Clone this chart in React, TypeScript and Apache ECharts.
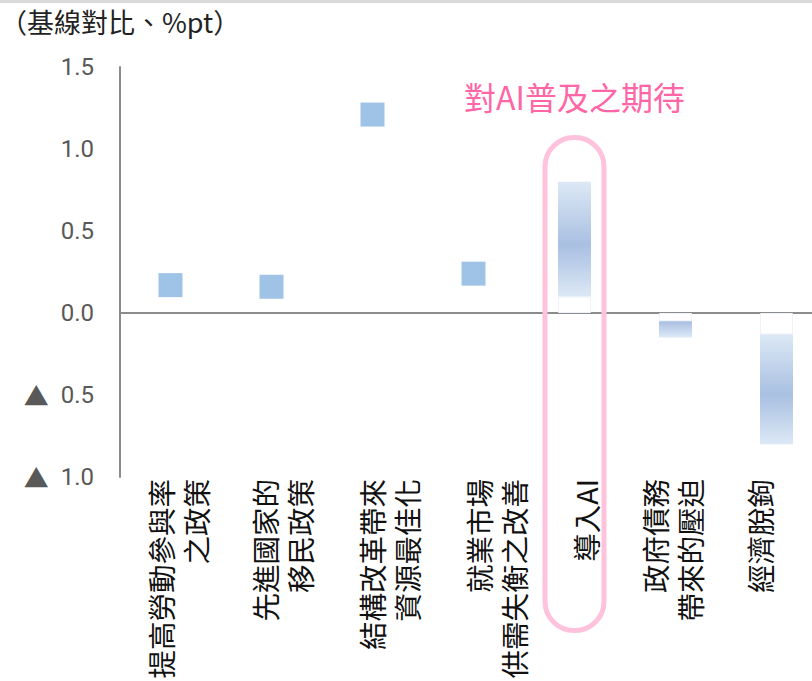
import React, { useEffect, useRef } from 'react';
import * as echarts from 'echarts';

// ---- data ----
const categories = [
  '提高勞動參與率\n之政策',
  '先進國家的\n移民政策',
  '結構改革帶來\n資源最佳化',
  '就業市場\n供需失衡之改善',
  '導入AI',
  '政府債務\n帶來的壓迫',
  '經濟脫鉤',
];
const pointValues: (number | string)[] = [0.17, 0.16, 1.21, 0.24, '-', '-', '-'];
const rangeStart: (number | string)[] = ['-', '-', '-', '-', 0.10, -0.05, -0.13];
const rangeEnd: (number | string)[] = ['-', '-', '-', '-', 0.80, -0.15, -0.80];
const yMin = -1.0;
const yMax = 1.5;
const yInterval = 0.5;
const unitTitle = '（基線對比、%pt）';
const annotationText = '對AI普及之期待';
const highlightIndex = 4;

// ---- layout (not data) ----
const labelOffsets = [7.5, 10.5, 16, 22, 10.5, -4, -17.5];
const W = 812;
const H = 681;
const CHART_W = 827; // plot area runs past the right edge of the picture

const rangeDelta = rangeStart.map((s, i) => {
  const e = rangeEnd[i];
  return typeof s === 'number' && typeof e === 'number' ? +(e - s).toFixed(4) : '-';
});

const midGradient = new echarts.graphic.LinearGradient(0, 0, 0, 1, [
  { offset: 0, color: '#dce8f5' },
  { offset: 0.55, color: '#a9c0e2' },
  { offset: 1, color: '#dce8f5' },
]);
const topGradient = new echarts.graphic.LinearGradient(0, 0, 0, 1, [
  { offset: 0, color: '#a9bfe1' },
  { offset: 1, color: '#dde9f6' },
]);

export default function App() {
  const ref = useRef<HTMLDivElement>(null);
  useEffect(() => {
    if (!ref.current) return;
    const chart = echarts.init(ref.current, null, { renderer: 'svg' });
    const option: any = {
      animation: false,
      grid: { left: 120, top: 67, right: 0, height: 410 },
      xAxis: {
        type: 'category',
        data: categories,
        axisLine: { onZero: true, lineStyle: { color: '#8c8c8c', width: 2 } },
        axisTick: { show: false },
        axisLabel: { show: false },
        splitLine: { show: false },
      },
      yAxis: {
        type: 'value',
        min: yMin,
        max: yMax,
        interval: yInterval,
        axisLine: { show: true, lineStyle: { color: '#8c8c8c', width: 2 } },
        axisTick: { show: false },
        splitLine: { show: false },
        axisLabel: {
          margin: 26,
          fontSize: 24,
          color: '#595959',
          fontFamily: 'Roboto, "Liberation Sans", sans-serif',
          formatter: (v: number) =>
            v < 0 ? '{t|▲}  ' + Math.abs(v).toFixed(1) : v.toFixed(1),
          rich: {
            t: {
              fontSize: 25,
              fontFamily: '"Noto Sans CJK JP", "DejaVu Sans", sans-serif',
              color: '#595959',
            },
          },
        },
      },
      series: [
        {
          type: 'bar',
          stack: 'range',
          data: rangeStart,
          barWidth: 33,
          silent: true,
          itemStyle: { color: 'rgba(0,0,0,0)', borderColor: '#eef3f9', borderWidth: 1 },
        },
        {
          type: 'bar',
          stack: 'range',
          data: rangeDelta,
          barWidth: 33,
          itemStyle: {
            color: (p: any) => (p.dataIndex === 5 ? topGradient : midGradient),
          },
        },
        {
          type: 'scatter',
          data: pointValues,
          symbol: 'rect',
          symbolSize: 24,
          itemStyle: { color: '#9fc3e6', opacity: 1 },
          z: 3,
        },
      ],
    };
    chart.setOption(option);

    const px = (i: number) =>
      chart.convertToPixel({ xAxisIndex: 0 }, categories[i]) as number;
    const zeroY = chart.convertToPixel({ yAxisIndex: 0 }, 0) as number;
    const bottomY = chart.convertToPixel({ yAxisIndex: 0 }, yMin) as number;
    const labelTop = bottomY + 2;

    const labelGraphics = categories.map((c, i) => ({
      type: 'text',
      x: px(i) + labelOffsets[i],
      y: labelTop,
      rotation: Math.PI / 2,
      style: {
        text: c,
        fontSize: 28.5,
        fontFamily: '"Noto Sans CJK TC", "Noto Sans CJK JP", sans-serif',
        fill: '#111111',
        align: 'right',
        textAlign: 'right',
        verticalAlign: 'middle',
        textVerticalAlign: 'middle',
        lineHeight: 35,
      },
    }));

    const hx = px(highlightIndex);
    chart.setOption({
      graphic: [
        { type: 'rect', shape: { x: 0, y: 0, width: CHART_W, height: 3 }, style: { fill: '#d9d9d9' } },
        {
          type: 'text',
          x: 0,
          y: 8,
          style: {
            text: unitTitle,
            fontSize: 27,
            fontFamily: '"Noto Sans CJK TC", sans-serif',
            fill: '#222222',
            align: 'left',
            textAlign: 'left',
            verticalAlign: 'top',
            textVerticalAlign: 'top',
          },
        },
        {
          type: 'text',
          x: hx,
          y: 96,
          style: {
            text: annotationText,
            fontSize: 32,
            fontFamily: '"Noto Sans CJK TC", sans-serif',
            fill: '#ff66a6',
            align: 'center',
            textAlign: 'center',
            verticalAlign: 'middle',
            textVerticalAlign: 'middle',
          },
        },
        {
          type: 'rect',
          shape: { x: hx - 29.5, y: zeroY - 175.5, width: 59, height: 493, r: 29 },
          style: { fill: 'none', stroke: '#ffc2dc', lineWidth: 5 },
          z: 10,
        },
        ...labelGraphics,
      ],
    });
    return () => chart.dispose();
  }, []);
  return (
    <div
      style={{
        position: 'fixed',
        left: 0,
        top: 0,
        width: W,
        height: H,
        overflow: 'hidden',
        background: '#fff',
      }}
    >
      <div ref={ref} style={{ width: CHART_W, height: H }} />
    </div>
  );
}
